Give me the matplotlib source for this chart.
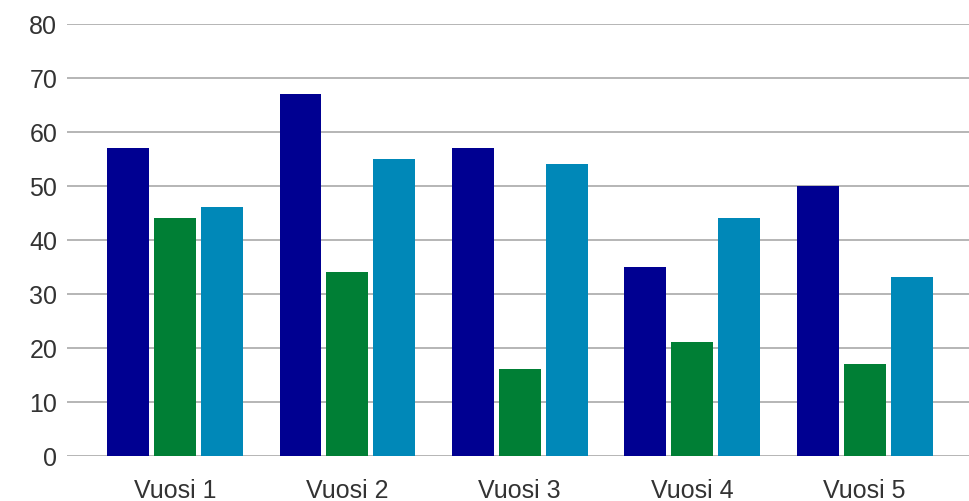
import matplotlib
matplotlib.use("Agg")
import matplotlib.pyplot as plt
import numpy as np

categories = ["Vuosi 1", "Vuosi 2", "Vuosi 3", "Vuosi 4", "Vuosi 5"]
series_a = [57, 67, 57, 35, 50]
series_b = [44, 34, 16, 21, 17]
series_c = [46, 55, 54, 44, 33]
y_ticks = [0, 10, 20, 30, 40, 50, 60, 70, 80]

colors = ["#000091", "#007F35", "#0088B8"]

plt.rcParams["font.family"] = ["Liberation Sans", "DejaVu Sans"]

fig = plt.figure(figsize=(9.69, 5.02), dpi=100)
ax = fig.add_axes([67 / 969, 0.0902, 1 - 67 / 969, 0.951 - 0.0902])

x = np.arange(len(categories))
width = 0.243
offset = 0.272
for i, (vals, col) in enumerate(zip([series_a, series_b, series_c], colors)):
    ax.bar(x + (i - 1) * offset, vals, width=width, color=col, zorder=3)

ax.set_ylim(0, 80)
ax.set_xlim(-0.626, 4.605)
ax.set_yticks(y_ticks)
ax.set_xticks(x)
ax.set_xticklabels(categories)
ax.yaxis.grid(True, color="#b5b5b5", linewidth=1.4, zorder=0)
ax.set_axisbelow(True)
for s in ax.spines.values():
    s.set_visible(False)
ax.tick_params(axis="both", length=0, labelsize=18, labelcolor="#333333")
ax.tick_params(axis="y", pad=7)
ax.tick_params(axis="x", pad=16)

fig.savefig("out.png", dpi=100)
